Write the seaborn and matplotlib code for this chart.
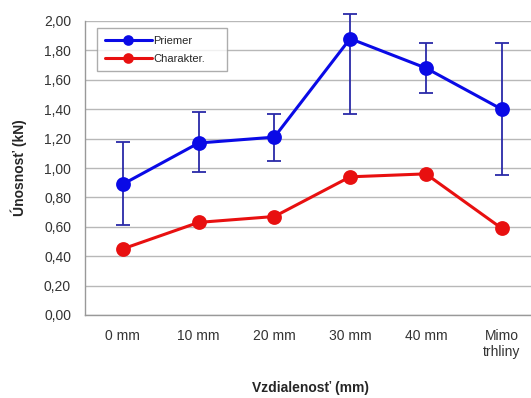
import matplotlib
matplotlib.use("Agg")
import matplotlib.pyplot as plt
import seaborn as sns
import pandas as pd
from matplotlib.ticker import FuncFormatter, FixedLocator

# Data
categories = ["0 mm", "10 mm", "20 mm", "30 mm", "40 mm", "Mimo\ntrhliny"]
priemer = [0.89, 1.17, 1.21, 1.88, 1.68, 1.40]
priemer_low = [0.61, 0.97, 1.05, 1.37, 1.51, 0.95]
priemer_high = [1.18, 1.38, 1.37, 2.05, 1.85, 1.85]
charakter = [0.45, 0.63, 0.67, 0.94, 0.96, 0.59]

df = pd.DataFrame({
    "kat": categories * 2,
    "hodnota": priemer + charakter,
    "serie": ["Priemer"] * len(categories) + ["Charakter."] * len(categories),
})

sns.set_style("white")
plt.rcParams["font.family"] = ["Liberation Sans", "DejaVu Sans"]

fig = plt.figure(figsize=(5.31, 3.98), dpi=100)
ax = fig.add_axes([85 / 531, 83 / 398, (539.5 - 85) / 531, (315 - 21) / 398])

pos = list(range(len(categories)))

# error bars on the mean series
err_lo = [p - l for p, l in zip(priemer, priemer_low)]
err_hi = [h - p for p, h in zip(priemer, priemer_high)]
ax.errorbar(pos, priemer, yerr=[err_lo, err_hi], fmt="none", ecolor="#2a2aa8",
            elinewidth=1.3, capsize=5, capthick=1.3, clip_on=False, zorder=2)

sns.pointplot(data=df, x="kat", y="hodnota", hue="serie",
              palette={"Priemer": "#0a0ae6", "Charakter.": "#e81010"},
              errorbar=None, markers="o", markersize=9, linewidth=2.2,
              ax=ax, zorder=3)
for line in ax.lines:
    line.set_clip_on(False)

ax.set_xlim(-0.5, len(categories) - 0.5)
ax.set_ylim(0, 2.0)
ax.set_yticks([i * 0.2 for i in range(11)])
ax.yaxis.set_major_formatter(FuncFormatter(lambda v, p: f"{v:.2f}".replace(".", ",")))
ax.grid(axis="y", color="#b8b8b8", linewidth=1)
ax.set_axisbelow(True)

ax.set_xticks(pos)
ax.set_xticklabels(categories)
ax.xaxis.set_minor_locator(FixedLocator([i + 0.5 for i in range(-1, len(categories))]))
ax.tick_params(axis="x", which="major", length=0, pad=10, labelsize=10, colors="#333333")
ax.tick_params(axis="x", which="minor", length=4, color="#999999", direction="out")
ax.tick_params(axis="y", length=4, color="#999999", direction="out", labelsize=10,
               colors="#333333", pad=6)
ax.tick_params(axis="y", colors="#999999")
for lab in ax.get_yticklabels():
    lab.set_color("#333333")

for s in ["top", "right"]:
    ax.spines[s].set_visible(False)
for s in ["left", "bottom"]:
    ax.spines[s].set_color("#999999")
    ax.spines[s].set_linewidth(1)

ax.set_xlabel("Vzdialenosť (mm)", fontweight="bold", fontsize=10)
ax.xaxis.set_label_coords((310 - 85) / (539.5 - 85), -0.225)
ax.set_ylabel("Únosnosť (kN)", fontweight="bold", fontsize=10, labelpad=12)

handles, labels = ax.get_legend_handles_labels()
leg = ax.legend(handles, labels, loc="upper left",
                bbox_to_anchor=(0.015, 0.0, 0.31, 0.995), mode="expand",
                fontsize=8, frameon=True, fancybox=False, edgecolor="#999999",
                borderpad=0.7, handlelength=4.2, handletextpad=0.1, labelspacing=0.7)
leg.get_frame().set_linewidth(1)
for h in leg.legend_handles:
    h.set_markersize(6)
    h.set_linewidth(2.2)

fig.savefig("out.png", dpi=100)
